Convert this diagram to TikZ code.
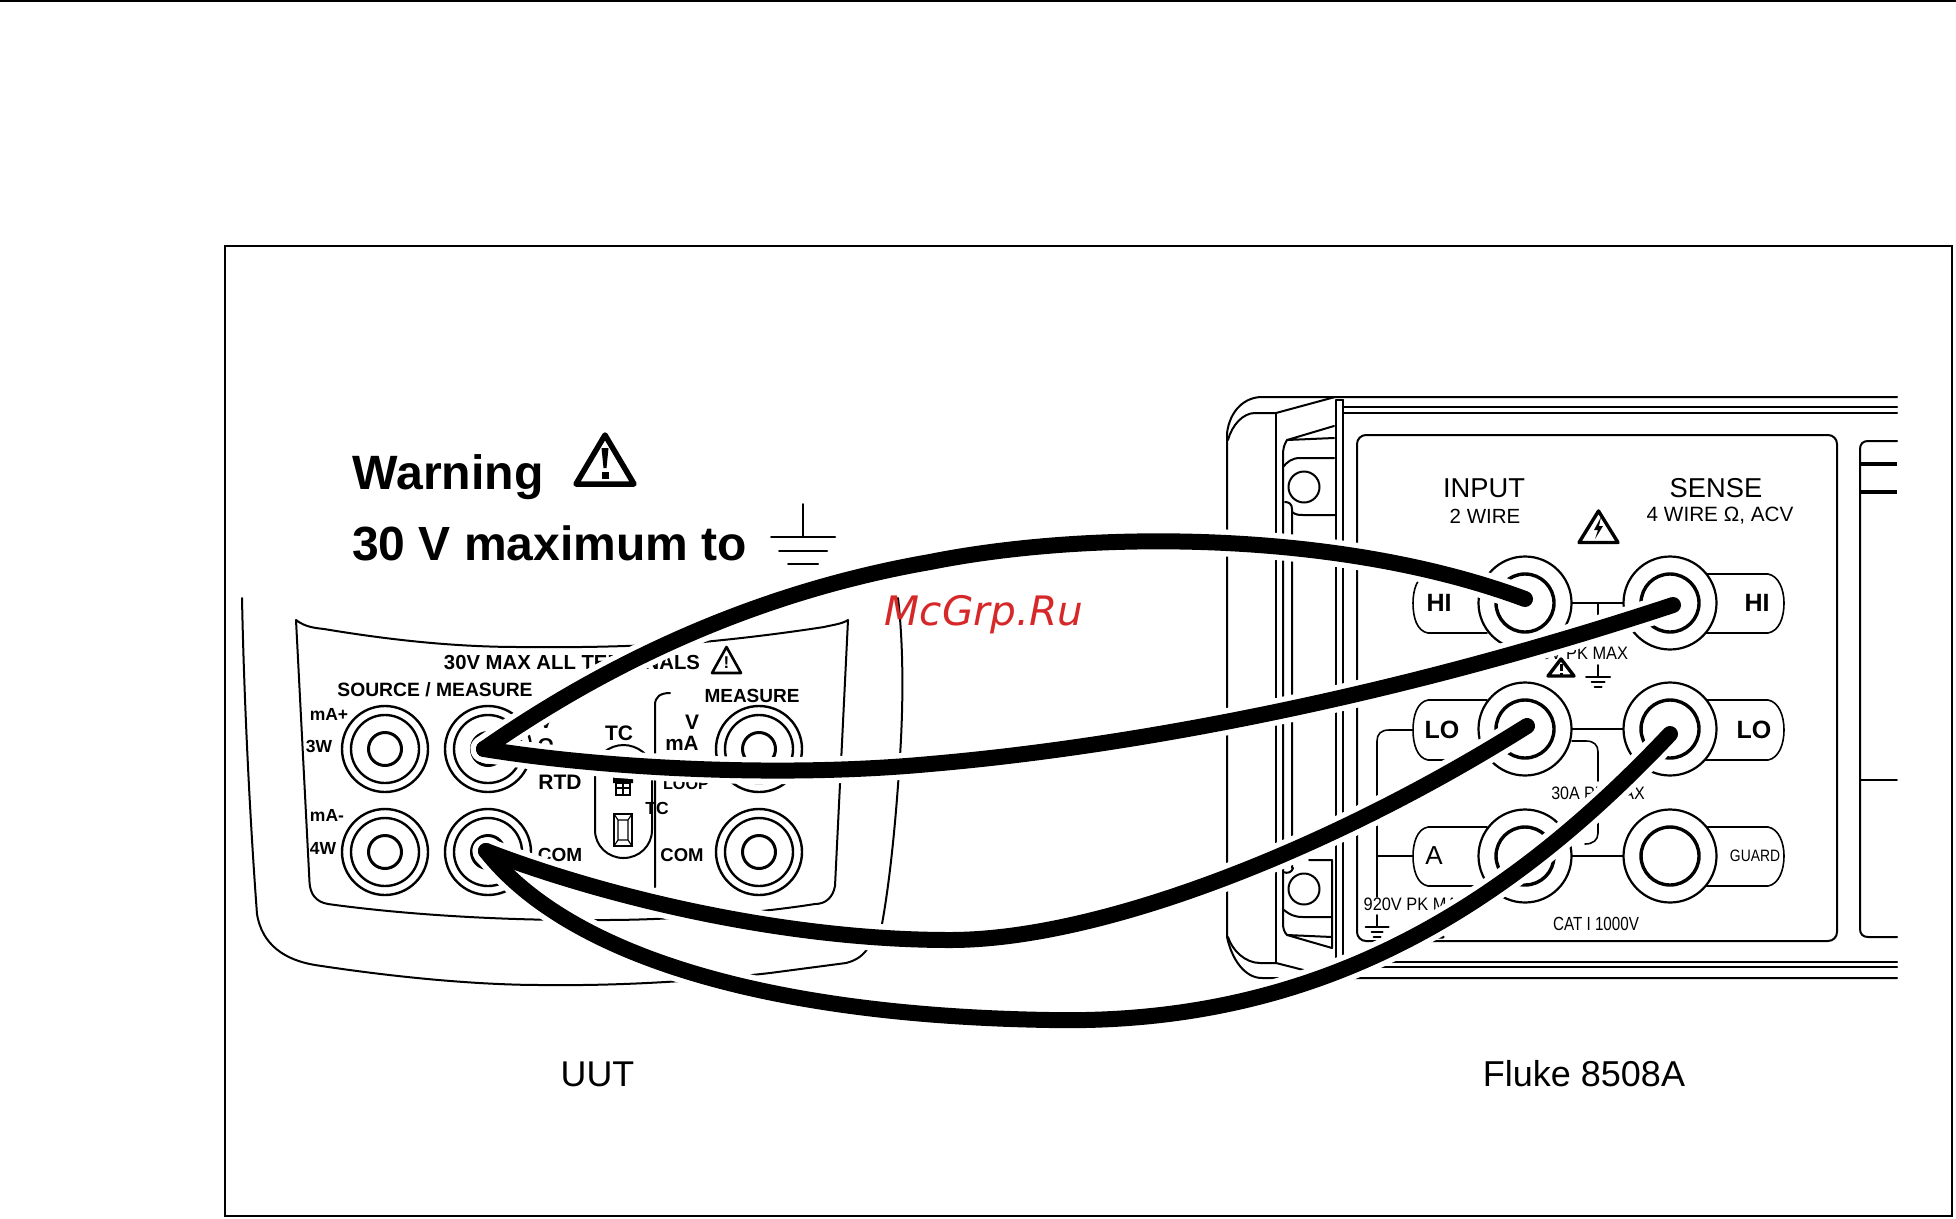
\documentclass[tikz,border=0pt]{standalone}
\usepackage{fontspec}
\setmainfont{Liberation Sans}
\newfontfamily\wmfont{DejaVu Sans}
\newcommand{\fsz}[1]{\fontsize{#1}{#1}\selectfont}
\tikzset{
  ln/.style={line width=2pt,line cap=round,line join=round},
  lnt/.style={line width=1.6pt,line cap=round,line join=round},
  lab/.style={inner sep=0pt,outer sep=0pt,anchor=center},
  blab/.style={inner sep=0pt,outer sep=0pt,anchor=center,font=\bfseries},
  ujack/.style={circle,draw,line width=2.4pt,fill=white,inner sep=0pt,outer sep=0pt},
  fjack/.style={circle,draw,line width=2.2pt,fill=white,inner sep=0pt,outer sep=0pt},
  halo/.style={white,line width=27pt,line cap=round},
  wire/.style={black,line width=16pt,line cap=round},
}
\newcommand{\uutjack}[3]{%
  \node[ujack,minimum size=86pt] (#1) at (#2,#3) {};
  \node[ujack,minimum size=68pt] (#1m) at (#2,#3) {};
  \node[ujack,minimum size=33pt,line width=3pt] (#1i) at (#2,#3) {};
}
\newcommand{\flukejack}[3]{%
  \node[fjack,minimum size=93pt] (#1) at (#2,#3) {};
  \node[fjack,minimum size=58pt,line width=3.4pt] (#1i) at (#2,#3) {};
}
\newcommand{\gnd}[7]{%
  \draw[ln] (#1,#2) -- (#1,#3);
  \draw[ln] (#1-#4,#3) -- (#1+#4,#3);
  \draw[ln] (#1-#5,#3+#7) -- (#1+#5,#3+#7);
  \draw[ln] (#1-#6,#3+2*#7) -- (#1+#6,#3+2*#7);
}
\begin{document}
\begin{tikzpicture}[x=1pt,y=-1pt]
\useasboundingbox (0,0) rectangle (1956,1218);
\fill[white] (0,0) rectangle (1956,1218);
% page rule and frame
\draw[line width=2.5pt] (0,0.8) -- (1956,0.8);
\draw[line width=2.5pt] (225,246) rectangle (1952,1216);

% ---------- UUT body ----------
\draw[ln] (242,598) .. controls (244,700) and (250,820) .. (257,914)
  .. controls (262,945) and (285,960) .. (315,965)
  .. controls (400,978) and (480,985) .. (542,985)
  .. controls (620,986) and (700,981) .. (770,973)
  -- (846,963) .. controls (858,960) and (864,954) .. (868,948);
\draw[ln] (882,924) .. controls (890,880) and (896,820) .. (900,756)
  .. controls (903,710) and (904,650) .. (898,598);
% UUT bezel
\draw[ln] (296,620) .. controls (305,627) and (315,628) .. (324,629)
  .. controls (390,640) and (455,647) .. (520,647)
  .. controls (600,648) and (660,645) .. (703,642)
  .. controls (745,638) and (785,633) .. (824,627)
  .. controls (832,625) and (842,624) .. (848,620)
  -- (835,886) .. controls (833,897) and (826,904) .. (815,904)
  .. controls (765,912) and (680,920) .. (605,920)
  .. controls (500,921) and (400,914) .. (328,904)
  .. controls (316,902) and (310,894) .. (309.5,882) -- cycle;

\node[blab,font=\bfseries\fsz{20.3}] (tall) at (572,662.5) {30V MAX ALL TERMINALS};
\draw[line width=2.6pt,line join=round] (726.5,647) -- (741,673) -- (712,673) -- cycle;
\node[blab,font=\bfseries\fsz{17}] (tbang) at (726.5,663) {!};
\node[blab,font=\bfseries\fsz{19.3}] (tsm) at (435,690) {SOURCE / MEASURE};
\node[blab,font=\bfseries\fsz{19}] (tme) at (752,696) {MEASURE};
\node[blab,font=\bfseries\fsz{17.5}] (tma) at (329,714) {mA+};
\node[blab,font=\bfseries\fsz{17.5}] (t3w) at (319,746) {3W};
\node[blab,font=\bfseries\fsz{17.5}] (tmb) at (327,815) {mA-};
\node[blab,font=\bfseries\fsz{17.5}] (t4w) at (323,848) {4W};

\uutjack{ua}{385}{749}
\uutjack{ub}{488}{749}
\uutjack{uc}{759}{749}
\uutjack{ud}{385}{852}
\uutjack{ue}{488}{852}
\uutjack{uf}{759}{852}

\node[blab,font=\bfseries\fsz{19}] (tv1) at (546,722) {V};
\node[blab,font=\bfseries\fsz{20}] (tohm) at (546,746) {Ω};
\node[blab,font=\bfseries\fsz{19}] (thz) at (552,762) {HI};
\node[blab,font=\bfseries\fsz{21}] (trtd) at (560,782) {RTD};
\node[blab,font=\bfseries\fsz{19}] (tcom1) at (560,855) {COM};
\node[blab,font=\bfseries\fsz{21}] (ttc) at (619,733) {TC};
\node[blab,font=\bfseries\fsz{21}] (tv2) at (692,722) {V};
\node[blab,font=\bfseries\fsz{20.7}] (tma2) at (682,743) {mA};
\node[blab,font=\bfseries\fsz{16.2}] (tloop) at (686,784) {LOOP};
\node[blab,font=\bfseries\fsz{18.5}] (tcom2) at (682,855) {COM};

% capsule and brackets
\draw[ln] (595,770) .. controls (595,755) and (610,745) .. (623.5,745)
  .. controls (637,745) and (652,755) .. (652,770) -- (652,830)
  .. controls (652,846) and (639,858) .. (623.5,858)
  .. controls (608,858) and (595,846) .. (595,830) -- cycle;
\draw[ln] (670,693) .. controls (660,693) and (655,697) .. (655,705) -- (655,887);
\node[blab,font=\bfseries\fsz{17.5}] (ttc2) at (657,808) {TC};
% connector icons
\fill (613,775) -- (617,775) -- (617,778) -- (621,778) -- (621,775) -- (625,775) -- (625,778) -- (629,778) -- (629,775) -- (633,775) -- (633,783) -- (613,783) -- cycle;
\draw[line width=2pt] (616,783) rectangle (630,795);
\draw[line width=1.6pt] (623,780) -- (623,795) (616,788) -- (630,788);
\draw[line width=2.8pt] (614,814) rectangle (632,846);
\draw[line width=1.2pt] (618,820) rectangle (628,840) (614,814) -- (618,820) (632,814) -- (628,820) (614,846) -- (618,840) (632,846) -- (628,840);

% ---------- warning ----------
\node[inner sep=0pt,outer sep=0pt,anchor=base west,font=\bfseries\fsz{48.2}] (twarn) at (352.5,489) {Warning};
\node[inner sep=0pt,outer sep=0pt,anchor=base west,font=\bfseries\fsz{48}] (tmax) at (352,560) {30 V maximum to};
\draw[line width=5.5pt,line join=round] (605,435) -- (634,484) -- (576,484) -- cycle;
\fill (601.5,448) -- (608.5,448) -- (606.5,468) -- (603.5,468) -- cycle;
\fill (601.5,472) rectangle (608.5,479);
\gnd{803}{504}{537}{32}{24}{15}{13.5}

% ---------- Fluke chassis ----------
\draw[ln] (1227,528) -- (1227,433) .. controls (1230,410) and (1245,397) .. (1262,397) -- (1897,397);
\draw[ln] (1228,440) .. controls (1232,425) and (1243,413) .. (1255,413) -- (1276,413) -- (1335,397);
\draw[ln] (1227,528) -- (1227,937) .. controls (1232,960) and (1245,978) .. (1262,978) -- (1897,978);
\draw[ln] (1228,937) .. controls (1232,950) and (1245,963) .. (1260,963) -- (1276,963) -- (1335,978);
\draw[ln] (1276,413) -- (1276,963);
\draw[ln] (1336,400) -- (1336,963);
\draw[ln] (1343,400) -- (1343,961);
\draw[ln] (1336,400) -- (1343,400);
\draw[ln] (1343,407) -- (1897,407);
\draw[ln] (1343,413) -- (1897,413);
\draw[ln] (1343,962) -- (1897,962);
\draw[ln] (1343,967) -- (1897,967);
% left inserts
\draw[ln] (1334,426) -- (1287,440) -- (1334,438);
\draw[ln] (1287,440) .. controls (1284,445) and (1283,448) .. (1283,456) -- (1283,872);
\draw[ln] (1283,467) .. controls (1287,462) and (1292,458) .. (1300,458) -- (1334,458);
\draw[ln] (1304,487) circle[radius=15.5];
\draw[ln] (1285,502) .. controls (1289,502) and (1292,504) .. (1292,509) -- (1292,868);
\draw[ln] (1292,512) .. controls (1296,515) and (1299,515) .. (1303,515) -- (1335,515);
\draw[ln] (1309,860) -- (1332,860) -- (1332,948) -- (1287,935) -- (1332,937);
\draw[ln] (1283,872) .. controls (1288,874) and (1292,872) .. (1293,868);
\draw[ln] (1304,889) circle[radius=15.5];
\draw[ln] (1283,872) -- (1283,923) .. controls (1283,928) and (1284,932) .. (1287,935);
\draw[ln] (1284,910) .. controls (1290,915) and (1295,917) .. (1303,917) -- (1332,917);
% right panel
\draw[ln] (1897,441) -- (1868,441) .. controls (1863,441) and (1860,444) .. (1860,449) -- (1860,929) .. controls (1860,934) and (1863,937) .. (1868,937) -- (1897,937);
\draw[line width=3.4pt] (1861,464) -- (1897,464) (1861,492) -- (1897,492);
\draw[lnt] (1860,780) -- (1897,780);
% main panel
\draw[ln,rounded corners=9pt] (1357,435) rectangle (1837,941);

\node[lab,font=\fsz{27.3}] (tin) at (1484,488.5) {INPUT};
\node[lab,font=\fsz{20.5}] (t2w) at (1485,516) {2 WIRE};
\node[lab,font=\fsz{27.3}] (tse) at (1716,488.5) {SENSE};
\node[lab,font=\fsz{20.7}] (t4wi) at (1720,516) {4 WIRE Ω, ACV};
\draw[line width=3.4pt,line join=round] (1598.5,511) -- (1618,542.5) -- (1579,542.5) -- cycle;
\fill (1601,517) -- (1594,530) -- (1598,530) -- (1595,539) -- (1603,526) -- (1599,526) -- cycle;

% ladder wiring
\draw[lnt] (1572,603) -- (1623,603) (1598,603) -- (1598,634);
\draw[lnt] (1572,729) -- (1623,729);
\draw[lnt] (1572,741) -- (1586,741) .. controls (1594,741) and (1598,745) .. (1598,752) -- (1598,781);
\draw[lnt] (1598,823) -- (1598,833) .. controls (1598,840) and (1593,844) .. (1585,844);
\draw[lnt] (1572,856) -- (1623,856);
\draw[lnt] (1413,730) -- (1389,730) .. controls (1381,730) and (1377,734) .. (1377,741) -- (1377,897);
\draw[lnt] (1377,856) -- (1413,856);

% pills
\draw[lnt,fill=white] (1487,574) -- (1428,574) .. controls (1417,576) and (1413,590) .. (1413,603) .. controls (1413,618) and (1417,631) .. (1428,633) -- (1487,633);
\draw[lnt,fill=white] (1705,574) -- (1768,574) .. controls (1779,576) and (1784,590) .. (1784,603) .. controls (1784,618) and (1779,631) .. (1768,633) -- (1705,633);
\draw[lnt,fill=white] (1487,700) -- (1428,700) .. controls (1417,702) and (1413,716) .. (1413,730) .. controls (1413,744) and (1417,758) .. (1428,760) -- (1487,760);
\draw[lnt,fill=white] (1705,700) -- (1768,700) .. controls (1779,702) and (1784,716) .. (1784,730) .. controls (1784,744) and (1779,758) .. (1768,760) -- (1705,760);
\draw[lnt,fill=white] (1487,827) -- (1428,827) .. controls (1417,829) and (1413,843) .. (1413,856) .. controls (1413,870) and (1417,884) .. (1428,886) -- (1487,886);
\draw[lnt,fill=white] (1705,827) -- (1768,827) .. controls (1779,829) and (1784,843) .. (1784,856) .. controls (1784,870) and (1779,884) .. (1768,886) -- (1705,886);

\node[blab,font=\bfseries\fsz{25}] (thi1) at (1439,603) {HI};
\node[blab,font=\bfseries\fsz{25}] (thi2) at (1757,603) {HI};
\node[blab,font=\bfseries\fsz{25}] (tlo1) at (1442,730) {LO};
\node[blab,font=\bfseries\fsz{25}] (tlo2) at (1754,730) {LO};
\node[lab,font=\fsz{26}] (ta) at (1434,856) {A};
\node[lab,xscale=.84,font=\fsz{16.5}] (tg) at (1755,856) {GUARD};
\node[lab,xscale=.8,font=\fsz{19}] (tcat) at (1596,924) {CAT I 1000V};
\node[lab,xscale=.89,font=\fsz{18}] (t30a) at (1598,793) {30A PK MAX};
\node[lab,xscale=.91,font=\fsz{18}] (t920a) at (1416,904) {920V PK MAX};
\node[inner sep=0pt,outer sep=0pt,anchor=east,xscale=.91,font=\fsz{18}] (t920b) at (1628,653) {920V PK MAX};

\draw[line width=3.4pt,line join=round] (1561,659) -- (1574,676) -- (1548,676) -- cycle;
\fill (1559.5,664) rectangle (1562.5,671);
\fill (1559.5,672.5) rectangle (1562.5,675);
\gnd{1598}{665}{677}{12}{6.5}{3.5}{5}
\gnd{1377}{915}{927}{11.5}{5.5}{3.5}{5}
\draw[line width=3pt,line join=round] (1429,917) -- (1443,937) -- (1415,937) -- cycle;

\flukejack{fa}{1525}{603}
\flukejack{fb}{1670}{603}
\flukejack{fc}{1525}{729}
\flukejack{fd}{1670}{729}
\flukejack{fe}{1525}{856}
\flukejack{ff}{1670}{856}

% labels
\node[lab,font=\fsz{35.8}] (tuut) at (597.5,1074) {UUT};
\node[lab,font=\fsz{36}] (tfl) at (1584,1074) {Fluke 8508A};

% wire ends
\coordinate (us) at (484,749);
\coordinate (ut) at (486,851);
\coordinate (e1) at (1525,599);
\coordinate (e2) at (1673,605);
\coordinate (e3) at (1527,726);
\coordinate (e4) at (1670,734);
\coordinate (w1) at (930,562);
\coordinate (w2) at (930,764);
\coordinate (w3) at (950,940);
\coordinate (w4) at (1050,1020);
\foreach \st in {halo,wire}{
  \draw[\st] (us) .. controls (590,675) and (740,595) .. (w1) .. controls (1090,530) and (1340,530) .. (e1);
  \draw[\st] (us) .. controls (600,768) and (780,778) .. (w2) .. controls (1070,752) and (1340,715) .. (e2);
  \draw[\st] (ut) .. controls (600,895) and (780,940) .. (w3) .. controls (1100,940) and (1330,850) .. (e3);
  \draw[\st] (ut) .. controls (560,945) and (740,1015) .. (w4) .. controls (1300,1025) and (1490,925) .. (e4);
}
\definecolor{wm}{RGB}{214,40,40}
\node[lab,font=\wmfont\itshape\fsz{40.6},text=wm] (twm) at (984,615) {McGrp.Ru};
\end{tikzpicture}
\end{document}
